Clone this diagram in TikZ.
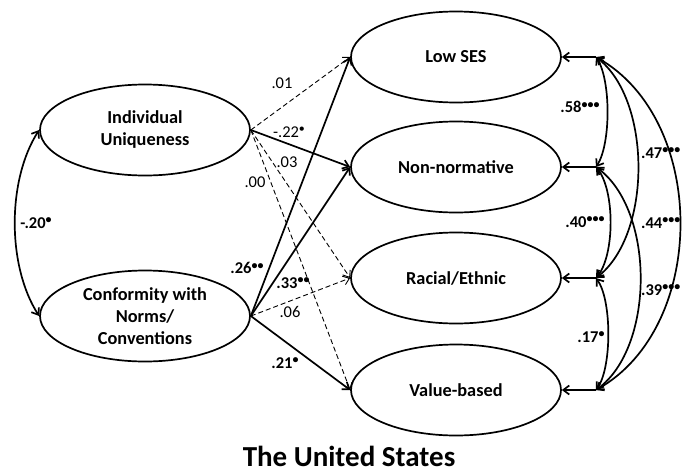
\documentclass[tikz,border=0pt]{standalone}
\usepackage{fontspec}
\setmainfont{Carlito}
\usetikzlibrary{shapes.geometric,arrows.meta}
\newcommand\sigd[1]{\raisebox{4.5pt}{\fontsize{12}{12}\selectfont #1}}
\begin{document}
\begin{tikzpicture}[x=1pt,y=-1pt,
  latent/.style={ellipse,draw,line width=1.7pt,minimum width=210pt,minimum height=91pt,inner sep=0pt,align=center,font=\bfseries\fontsize{18.3}{22}\selectfont},
  tip/.style={-{Straight Barb[length=6pt,width=9pt]}},
  solidpath/.style={tip,line width=1.7pt},
  dashpath/.style={tip,line width=0.9pt,dash pattern=on 5pt off 3pt},
  cov/.style={{Straight Barb[length=6pt,width=9pt]}-{Straight Barb[length=6pt,width=9pt]},line width=1.7pt},
  lab/.style={inner sep=0pt,font=\fontsize{16.5}{18}\selectfont},
  blab/.style={inner sep=0pt,font=\bfseries\fontsize{16.5}{18}\selectfont}]
\useasboundingbox (0,0) rectangle (685,474);
% latent factors
\node[latent] (iu) at (145,130) {Individual\\Uniqueness};
\node[latent] (cn) at (145,316) {Conformity with\\Norms/\\Conventions};
\node[latent] (ls) at (456,57) {Low SES};
\node[latent] (nn) at (456,167) {Non-normative};
\node[latent] (re) at (456,278) {Racial/Ethnic};
\node[latent] (vb) at (456,390) {Value-based};
% covariance points
\coordinate (p1) at (596,57);
\coordinate (p2) at (596,167);
\coordinate (p3) at (596,278);
\coordinate (p4) at (596,390);
% paths from predictors
\draw[dashpath] (iu.east) -- (ls.west);
\draw[solidpath] (iu.east) -- (nn.west);
\draw[dashpath] (iu.east) -- (re.west);
\draw[dashpath] (iu.east) -- (vb.west);
\draw[solidpath] (cn.east) -- (ls.west);
\draw[solidpath] (cn.east) -- (nn.west);
\draw[dashpath] (cn.east) -- (re.west);
\draw[solidpath] (cn.east) -- (vb.west);
% predictor covariance
\draw[cov] (iu.west) .. controls (7,180) and (7,266) .. (cn.west);
% residual arrows
\draw[solidpath] (p1) -- (ls.east);
\draw[solidpath] (p2) -- (nn.east);
\draw[solidpath] (p3) -- (re.east);
\draw[solidpath] (p4) -- (vb.east);
% residual covariances
\draw[cov] (p1) .. controls (611,80) and (611,144) .. (p2);
\draw[cov] (p2) .. controls (615,190) and (615,255) .. (p3);
\draw[cov] (p3) .. controls (612,300) and (612,368) .. (p4);
\draw[cov] (p1) .. controls (652,100) and (652,235) .. (p3);
\draw[cov] (p2) .. controls (655,210) and (655,347) .. (p4);
\draw[cov] (p1) .. controls (708,120) and (708,327) .. (p4);
% labels
\node[lab] (l01) at (282,83) {.01};
\node[lab] (l22) at (289,132) {-.22\sigd{•}};
\node[lab] (l03) at (287,162) {.03};
\node[lab] (l00) at (255,182) {.00};
\node[blab] (l26) at (247,268) {.26\sigd{••}};
\node[blab] (l33) at (293,283) {.33\sigd{••}};
\node[lab] (l06) at (290,312) {.06};
\node[blab] (l21) at (285,363) {.21\sigd{•}};
\node[blab] (l20) at (36,223) {-.20\sigd{•}};
\node[blab] (l58) at (580,107) {.58\sigd{•••}};
\node[blab] (l40) at (585,222) {.40\sigd{•••}};
\node[blab] (l17) at (591,337) {.17\sigd{•}};
\node[blab,anchor=west] (l47) at (641,153) {.47\sigd{•••}};
\node[blab,anchor=west] (l44) at (641,223) {.44\sigd{•••}};
\node[blab,anchor=west] (l39) at (641,290) {.39\sigd{•••}};
% title
\node[inner sep=0pt,font=\bfseries\fontsize{29}{33}\selectfont] (title) at (349,456) {The United States};
\end{tikzpicture}
\end{document}
